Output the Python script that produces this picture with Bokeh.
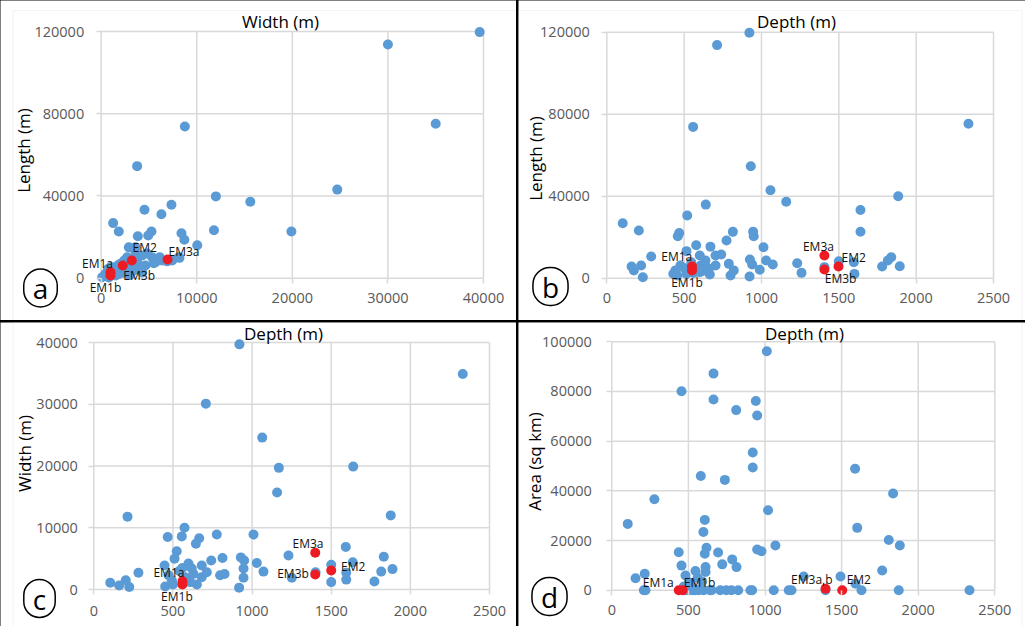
import math
from bokeh.plotting import figure
from bokeh.models import (ColumnDataSource, LabelSet, Label, FixedTicker,
                          BasicTickFormatter, Range1d, BoxAnnotation)
from bokeh.core.properties import value
from bokeh.layouts import row, column
from bokeh.embed import file_html
from bokeh.resources import INLINE

# ---------------- DATA ----------------
# Panel a: Width (m) vs Length (m)
a_width = [39600, 30000, 35000, 8750, 3760, 24700, 12000, 15600, 7350, 4530, 6300, 1250, 1840, 19900,
           11800, 8400, 5260, 4920, 3830, 8700, 10050, 3590, 2890,
           8120, 8190, 6130, 5500, 5330, 4290, 3770, 2720, 2020, 1500, 1150, 450, 100, 2540, 3240, 4630,
           5680, 6380, 7430, 1500, 800, 700, 1800, 2300, 3000, 1000, 4000, 5600, 3500, 2400, 1300, 600,
           2000, 4300, 3600, 4800, 6900, 2600, 3300, 1800]
a_length = [119700, 113700, 75100, 73800, 54500, 43100, 39800, 37200, 35700, 33300, 31100, 26800, 22700, 22700,
            23300, 21900, 22700, 20800, 20400, 18700, 16000, 15100, 15000,
            10200, 9900, 10200, 7300, 10200, 11000, 7800, 10200, 7000, 5300, 3700, 2100, 500, 3700, 5300, 6200,
            7800, 8600, 8600, 1300, 300, 4500, 6400, 2600, 1500, 5500, 4400, 8900, 9200, 8600, 2500, 1000,
            4200, 2800, 12500, 12000, 8200, 5800, 3400, 1900]
a_em_names = ["EM1a", "EM1b", "EM2", "EM3a", "EM3b"]
a_em_width = [973, 973, 3200, 6940, 2260]
a_em_length = [2920, 1310, 8600, 9100, 6180]

# Panel b: Depth (m) vs Length (m)
b_depth = [922, 713, 558, 2338, 931, 1058, 1160, 1884, 640, 1640, 520, 103, 207, 1640, 468, 459, 815, 946,
           950, 774, 578, 670, 1013, 515, 287, 601, 703, 740, 638, 606, 703, 789, 821, 800, 666, 660, 925,
           940, 989, 923, 1030, 1073, 1231, 1259, 1500, 1601, 1597, 1780, 1817, 1839, 1894, 160, 222, 233,
           175, 444, 476, 515, 455, 601, 640, 546, 1407, 580, 500, 620, 560, 430]
b_length = [119700, 113700, 73800, 75300, 54600, 42900, 37300, 40000, 35900, 33300, 30600, 26800, 23300,
            22700, 22000, 20500, 22600, 22600, 20500, 18400, 16100, 15400, 15100, 13200, 10600, 11100,
            11100, 11600, 8600, 6200, 6200, 7000, 3800, 1300, 1800, 4600, 9100, 6700, 4100, 800, 8600,
            6700, 7300, 2600, 8300, 2100, 7800, 5700, 8600, 10200, 5800, 5700, 6200, 500, 3800, 3800,
            6200, 2100, 1300, 2900, 5700, 7800, 5400, 4500, 5000, 3500, 2500, 2200]
b_em_names = ["EM1a", "EM1b", "EM2", "EM3a", "EM3b"]
b_em_depth = [551, 551, 1498, 1407, 1407]
b_em_length = [5710, 3760, 5710, 11070, 4240]

# Panel c: Depth (m) vs Width (m)
c_depth = [920, 2331, 708, 1064, 1169, 1639, 1158, 213, 1876, 573, 467, 556, 777, 1009, 666, 645, 524, 510,
           1230, 1592, 1832, 813, 929, 950, 1030, 742, 447, 598, 619, 682, 714, 798, 826, 946, 946, 1072,
           1251, 1500, 1595, 1636, 1500, 1595, 1773, 1816, 1887, 1401, 282, 104, 160, 202, 224, 451, 493,
           651, 918, 472, 577, 609, 682, 540, 630, 500, 560]
c_width = [39700, 34900, 30100, 24600, 19700, 19900, 15700, 11800, 12000, 10000, 8500, 8600, 8900, 8900,
           8300, 7400, 6200, 5000, 5500, 6900, 5300, 5100, 5200, 4700, 4300, 4700, 3900, 4200, 3400, 3900,
           2800, 2300, 2500, 3400, 1900, 2900, 1900, 4000, 2700, 4400, 1200, 1600, 1300, 2900, 3300, 2800,
           2700, 1100, 650, 1500, 400, 500, 1500, 800, 300, 2300, 2000, 1200, 2000, 3000, 2500, 800, 3500]
c_em_names = ["EM1a", "EM1b", "EM2", "EM3a", "EM3b"]
c_em_depth = [560, 560, 1500, 1399, 1399]
c_em_width = [1340, 810, 3080, 5940, 2430]

# Panel d: Depth (m) vs Area (sq km)
d_depth = [1012, 664, 455, 664, 940, 812, 949, 920, 920, 1588, 581, 738, 1836, 278, 1020, 607, 104, 1602,
           598, 1808, 1880, 1068, 618, 607, 437, 694, 949, 977, 721, 786, 814, 455, 546, 612, 612, 155,
           215, 481, 503, 1765, 1493, 1253, 1591, 560, 520, 590, 470,
           209, 220, 525, 568, 651, 708, 747, 781, 825, 916, 1057, 1155, 1173, 1395, 1630, 1873, 2335,
           480, 500, 545, 600, 640, 905]
d_area = [96200, 87200, 80100, 76800, 76200, 72500, 70300, 55400, 49400, 48900, 46000, 44400, 38900, 36600,
          32200, 28300, 26700, 25100, 23400, 20200, 18000, 18000, 17100, 14700, 15300, 15200, 16400, 15700,
          10400, 12400, 9300, 9900, 7700, 9300, 7300, 4800, 6600, 5900, 3200, 7900, 5500, 5500, 2600,
          5000, 2000, 3500, 1500,
          0, 0, 0, 0, 0, 0, 0, 0, 0, 0, 0, 0, 0, 0, 0, 0, 0,
          0, 0, 0, 0, 0, 0]
d_em_names = ["EM1a", "EM1b", "EM3a,b", "EM2"]
d_em_depth = [437, 463, 1395, 1504]
d_em_area = [0, 0, 560, 0]

# tick values
ticks_width = [0, 10000, 20000, 30000, 40000]
ticks_depth = [0, 500, 1000, 1500, 2000, 2500]
ticks_length = [0, 40000, 80000, 120000]
ticks_width_y = [0, 10000, 20000, 30000, 40000]
ticks_area = [0, 20000, 40000, 60000, 80000, 100000]

# ---------------- STYLE / LAYOUT ----------------
FONT = "Open Sans"
BLUE = "#5B9BD5"
RED = "#ED1C24"
GRID = "#D9D9D9"
TICKC = "#595959"


class Geom:
    """Maps page pixels of one panel to data values (layout only)."""

    def __init__(self, ox, oy, w, h, xa, xb, xv, ya, yb, yv):
        self.ox, self.oy, self.w, self.h = ox, oy, w, h
        self.xa, self.ya = xa, ya
        self.sx = (xb - xa) / xv
        self.sy = (ya - yb) / yv
        self.xr = (self.x(ox), self.x(ox + w))
        self.yr = (self.y(oy + h), self.y(oy))

    def x(self, px):
        return (px - self.xa) / self.sx

    def y(self, py):
        return (self.ya - py) / self.sy


def make_panel(g, xticks, yticks, ystand, xstand):
    p = figure(width=g.w, height=g.h, output_backend="svg", toolbar_location=None,
               x_range=Range1d(*g.xr), y_range=Range1d(*g.yr),
               min_border_left=0, min_border_right=0, min_border_top=0, min_border_bottom=0)
    p.outline_line_color = None
    p.background_fill_color = "white"
    p.border_fill_color = "white"
    p.grid.visible = False
    for ax, tk, st in ((p.xaxis[0], xticks, xstand), (p.yaxis[0], yticks, ystand)):
        ax.fixed_location = 0
        ax.ticker = FixedTicker(ticks=tk)
        ax.formatter = BasicTickFormatter(use_scientific=False)
        ax.axis_line_color = None
        ax.major_tick_line_color = GRID
        ax.major_tick_line_width = 1.5
        ax.minor_tick_line_color = None
        ax.major_tick_out = 5
        ax.major_tick_in = 0
        ax.major_label_text_font = FONT
        ax.major_label_text_font_size = "14.5px"
        ax.major_label_text_color = TICKC
        ax.major_label_standoff = st
    # gridlines drawn from the tick arrays
    p.segment(x0=xticks, y0=[yticks[0]] * len(xticks), x1=xticks, y1=[yticks[-1]] * len(xticks),
              line_color=GRID, line_width=1.5)
    p.segment(x0=[xticks[0]] * len(yticks), y0=yticks, x1=[xticks[-1]] * len(yticks), y1=yticks,
              line_color=GRID, line_width=1.5)
    return p


def decorate(p, g, xs, ys, exs, eys, names, offsets, title, title_px, ylabel, ylabel_px,
             letter, letter_px, border):
    p.add_layout(BoxAnnotation(fill_alpha=0, line_color=GRID, line_width=1.2, level="underlay",
                               **{k: (g.x(v) if k in ("left", "right") else g.y(v))
                                  for k, v in border.items()}))
    p.scatter(xs, ys, size=10, fill_color=BLUE, line_color=None)
    p.scatter(exs, eys, size=10, fill_color=RED, line_color=None)
    src = ColumnDataSource(dict(x=exs, y=eys, t=names,
                                dx=[o[0] for o in offsets], dy=[o[1] for o in offsets]))
    p.add_layout(LabelSet(x="x", y="y", text="t", source=src, x_offset="dx", y_offset="dy",
                          text_align="center", text_baseline="middle", text_font=value(FONT),
                          text_font_size="12px", text_color="#111111"))
    p.add_layout(Label(x=g.x(title_px[0]), y=g.y(title_px[1]), text=title,
                       text_align="center", text_baseline="middle", text_font=FONT,
                       text_font_size="17px", text_color="black"))
    p.add_layout(Label(x=g.x(ylabel_px[0]), y=g.y(ylabel_px[1]), text=ylabel, angle=math.pi / 2,
                       text_align="center", text_baseline="middle", text_font=FONT,
                       text_font_size="17px", text_color="black"))
    p.add_layout(Label(x=g.x(letter_px[0]), y=g.y(letter_px[1]), text=letter,
                       text_align="center", text_baseline="middle", text_font=FONT,
                       text_font_size="28px", text_color="black",
                       border_line_color="black", border_line_width=1.5,
                       border_radius=17, padding=dict(left=9, right=9, top=0, bottom=0)))


ga = Geom(0, 0, 516, 320, 100.7, 483.0, 40000, 277.7, 31.0, 120000)
gb = Geom(518, 0, 507, 320, 606.3, 993.0, 2500, 277.7, 31.7, 120000)
gc = Geom(0, 322, 516, 304, 93.3, 489.0, 2500, 589.0, 342.0, 40000)
gd = Geom(518, 322, 507, 304, 611.3, 994.3, 2500, 589.7, 341.3, 100000)

pa = make_panel(ga, ticks_width, ticks_length, 12, 10)
decorate(pa, ga, a_width, a_length, a_em_width, a_em_length, a_em_names,
         [(-13, 8.7), (-5, -12), (13, 13.5), (16.5, 8), (16.4, -9.7)],
         "Width (m)", (280, 21), "Length (m)", (23, 150), "a", (40, 287.5),
         dict(left=12.5, top=10))

pb = make_panel(gb, ticks_depth, ticks_length, 12, 10)
decorate(pb, gb, b_depth, b_length, b_em_depth, b_em_length, b_em_names,
         [(-15.3, 9.8), (-5, -12), (15.2, 8.8), (-6, 9.3), (16.2, -9.3)],
         "Depth (m)", (796, 21), "Length (m)", (535, 158), "b", (550, 286),
         dict(right=1021.5, top=10))

pc = make_panel(gc, ticks_depth, ticks_width_y, 11, 11)
decorate(pc, gc, c_depth, c_width, c_em_depth, c_em_width, c_em_names,
         [(-13.5, 8.4), (-5.5, -12), (22, 3.8), (-7.2, 9.8), (-22.2, 0.7)],
         "Depth (m)", (283, 333), "Width (m)", (24, 453), "c", (39, 598),
         dict(left=12.7))

pd_ = make_panel(gd, ticks_depth, ticks_area, 15, 10)
decorate(pd_, gd, d_depth, d_area, d_em_depth, d_em_area, d_em_names,
         [(-20.5, 8), (16.9, 8), (-13.7, 9.6), (16.6, 11.1)],
         "Depth (m)", (804, 333), "Area (sq km)", (534, 461), "d", (549, 596),
         dict(right=1021.5))

top = row(pa, pb, spacing=2, styles={"background-color": "#000000"})
bot = row(pc, pd_, spacing=2, styles={"background-color": "#000000"})
layout = column(top, bot, spacing=2, styles={"background-color": "#000000"})

open("out.html", "w").write(file_html(layout, INLINE))
